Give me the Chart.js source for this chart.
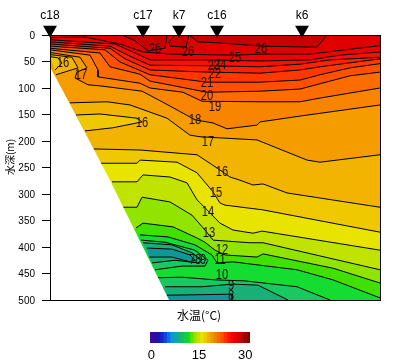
<!DOCTYPE html>
<html>
<head>
<meta charset="utf-8">
<style>
body { margin: 0; background: #fff; }
canvas { position: absolute; }
#sectionChart { left: 0; top: 0; }
#barChart { left: 130px; top: 325px; }
</style>
<script src="https://cdn.jsdelivr.net/npm/chart.js@4"></script>
</head>
<body>
<canvas id="sectionChart" width="400" height="360"></canvas>
<canvas id="barChart" width="140" height="35"></canvas>
<script>
// ===============================
// Stations along the section
// ===============================
const stationNames = ["c18", "c17", "k7", "c16", "k6"];
const stationDist = [0, 93, 129, 167, 252];

// ===============================
// Isotherms as [distance, depth in m]
// ===============================
const iso8 = [[117,491],[182,489],[182,500]];
const iso9 = [[115,475],[152,475],[183,470],[208,472],[238,500]];
const iso10 = [[108,458],[132,457],[165,462],[195,464],[247,475],[280,500]];
const iso11 = [[90,377],[118,381],[145,396],[162,415],[167,430],[183,428],[247,443],[283,462],[330,496]];
const iso12 = [[86,364],[93,355],[123,362],[147,383],[155,391],[165,406],[175,415],[207,419],[213,413],[283,440],[330,468]];
const iso13 = [[70,325],[87,325],[92,306],[120,315],[142,340],[155,368],[163,387],[200,392],[213,392],[330,443]];
const iso14 = [[62,277],[87,277],[93,264],[120,268],[137,279],[147,311],[155,326],[170,355],[183,368],[203,374],[212,370],[330,406]];
const iso15 = [[51,242],[87,242],[90,236],[127,240],[147,260],[163,296],[170,317],[175,321],[213,330],[330,372]];
const iso16 = [[44,215],[90,217],[147,226],[167,251],[180,268],[190,274],[203,283],[213,281],[237,298],[330,325]];
const iso17 = [[20,128],[57,126],[80,132],[117,157],[140,189],[150,192],[207,198],[257,236],[270,240],[330,226]];
const iso18 = [[0,33],[30,42],[37,62],[27,70],[25,81],[38,94],[50,96],[92,106],[118,132],[145,160],[163,166],[177,177],[207,170],[210,164],[250,153],[330,132]];
const iso19 = [[0,28],[40,38],[48,66],[48,79],[90,91],[100,100],[133,108],[152,125],[210,126],[250,126],[270,119],[330,100]];
const iso20 = [[0,25],[50,34],[60,60],[90,74],[100,87],[157,108],[210,106],[250,102],[300,77],[330,70]];
const iso21 = [[0,21],[55,28],[70,51],[100,75],[157,89],[210,89],[250,85],[270,75],[300,62],[330,54]];
const iso22 = [[0,17],[60,25],[75,45],[100,66],[157,70],[210,72],[250,66],[270,60],[330,45]];
const iso23 = [[0,13],[60,21],[80,40],[100,57],[157,58],[210,60],[250,55],[280,47],[330,42]];
const iso24 = [[0,9],[65,17],[85,34],[100,47],[157,47],[210,49],[260,47],[290,38],[330,32]];
const iso25 = [[0,5],[35,4],[70,17],[93,32],[120,36],[185,38],[210,36],[260,36],[277,32],[330,20]];

// closed pockets: cold lenses and the warm surface patches
const lens8 = [[97,402],[122,404],[140,415],[145,425],[140,428],[122,419],[99,419]];
const lens9 = [[93,392],[122,396],[142,411],[152,425],[148,430],[125,425],[102,430]];
const lens10 = [[91,387],[115,391],[145,406],[158,425],[155,436],[132,436],[105,443]];
const lens16 = [[26,151],[50,149],[87,157],[92,164],[63,175],[35,181]];
const shelf16 = [[0,41],[8,43],[12,53],[5,66]];
const shelf17 = [[0,37],[22,42],[28,62],[6,75]];
const patch26a = [[72,0],[85,11],[98,30],[115,25],[117,0]];
const patch26b = [[125,0],[119,13],[120,21],[136,23],[139,0]];
const patch26c = [[139,0],[148,13],[170,15],[211,21],[267,23],[277,0]];

// sea floor edge
const seafloor = [[0,60],[30,166],[60,274],[119,500]];

// labels written on the isotherms
const labelTexts = ["16","17","26","26","26","25","24","23","22","21","20","19","18","17","16","16","15","14","13","12","11","10","9","8","7","8","9"];
const labelDist = [13,31,105,138,211,185,170,164,165,157,157,165,145,158,92,172,166,158,159,172,170,172,181,181,142,148,153];
const labelDepth = [53,75,26,32,26,43,57,59,74,91,115,136,160,202,166,258,298,334,374,406,425,453,474,492,425,425,425];

// ===============================
// Colours, one step per degree
// ===============================
const bandColors = {
    7: "#109898", 8: "#18b078", 9: "#18c860", 10: "#14dc30", 11: "#40e000",
    12: "#90e400", 13: "#c0e400", 14: "#e8e400", 15: "#f0c800", 16: "#f2b400",
    17: "#f49c00", 18: "#f88400", 19: "#fc6c00", 20: "#ff5000", 21: "#ff3800",
    22: "#ff2000", 23: "#f81008", 24: "#f00000", 25: "#e00000", 26: "#c80000"
};
const barColors = [
    "#3a0a9c","#2a0aa8","#1a14b8","#1428cc","#0a46e8","#0a6ef0","#0a96d8","#0aa8a8","#10b080","#10c060",
    "#10d040","#10e010","#60e000","#a0e000","#c8e000","#f0e000","#f0c800","#f0b000","#f09800","#f08000",
    "#f86800","#ff5000","#ff3000","#f81808","#f00808","#e80000","#d00000","#b80000","#a00000","#800000"
];
const barTickValues = [0.4, 14.7, 28.6];
const barTickLabels = ["0", "15", "30"];

const FONT = "'Liberation Sans', sans-serif";
const CJK = "'Noto Sans CJK JP', sans-serif";
const MAX_DIST = 330;
const MAX_DEPTH = 500;

function toPoints(list) {
    return list.map(p => ({ x: p[0], y: p[1] }));
}

function fillShape(list, color) {
    return {
        type: "line",
        data: toPoints(list),
        fill: "shape",
        backgroundColor: color,
        borderWidth: 0,
        pointRadius: 0
    };
}

// everything warmer than the isotherm, up to the surface
function warmerThan(list, color) {
    const last = list[list.length - 1];
    return fillShape(
        list.concat([[MAX_DIST, last[1]], [MAX_DIST, 0], [0, 0], [0, MAX_DEPTH]]),
        color
    );
}

function strokeLine(list) {
    return {
        type: "line",
        data: toPoints(list),
        fill: false,
        borderColor: "#000",
        borderWidth: 1,
        pointRadius: 0
    };
}

// Paint order, coldest first
const painted = [
    fillShape([[0,0],[MAX_DIST,0],[MAX_DIST,MAX_DEPTH],[0,MAX_DEPTH]], bandColors[7]),
    warmerThan(iso8, bandColors[8]),
    warmerThan(iso9, bandColors[9]),
    warmerThan(iso10, bandColors[10]),
    fillShape(lens10, bandColors[9]),
    fillShape(lens9, bandColors[8]),
    fillShape(lens8, bandColors[7]),
    warmerThan(iso11, bandColors[11]),
    warmerThan(iso12, bandColors[12]),
    warmerThan(iso13, bandColors[13]),
    warmerThan(iso14, bandColors[14]),
    warmerThan(iso15, bandColors[15]),
    warmerThan(iso16, bandColors[16]),
    fillShape(lens16, bandColors[15]),
    warmerThan(iso17, bandColors[17]),
    fillShape(shelf17, bandColors[16]),
    fillShape(shelf16, bandColors[15]),
    warmerThan(iso18, bandColors[18]),
    warmerThan(iso19, bandColors[19]),
    warmerThan(iso20, bandColors[20]),
    warmerThan(iso21, bandColors[21]),
    warmerThan(iso22, bandColors[22]),
    warmerThan(iso23, bandColors[23]),
    warmerThan(iso24, bandColors[24]),
    warmerThan(iso25, bandColors[25]),
    fillShape(patch26a, bandColors[26]),
    fillShape(patch26b, bandColors[26]),
    fillShape(patch26c, bandColors[26])
];

const allLines = [
    iso8, iso9, iso10, iso11, iso12, iso13, iso14, iso15, iso16, iso17, iso18,
    iso19, iso20, iso21, iso22, iso23, iso24, iso25,
    lens8, lens9, lens10, lens16, shelf16, shelf17, patch26a, patch26b, patch26c
];

const floorShape = fillShape(seafloor.concat([[0, MAX_DEPTH]]), "#fff");

const stationMarks = {
    type: "line",
    data: stationDist.map(d => ({ x: d, y: -10 })),
    showLine: false,
    clip: false,
    pointStyle: "triangle",
    rotation: 180,
    pointRadius: 8,
    pointBackgroundColor: "#000",
    pointBorderWidth: 0
};

// first dataset ends up on top in Chart.js, so flip the paint order
const sectionDatasets = painted
    .concat(allLines.map(strokeLine))
    .concat([floorShape, stationMarks])
    .reverse();

// contour labels, axis titles and the plot frame
const sectionExtras = {
    id: "sectionExtras",
    afterDraw(chart) {
        const { ctx, chartArea, scales } = chart;
        ctx.save();
        ctx.fillStyle = "#201010";
        ctx.font = "14px " + FONT;
        ctx.textAlign = "center";
        ctx.textBaseline = "middle";
        labelTexts.forEach((text, i) => {
            const x = scales.x.getPixelForValue(labelDist[i]);
            const y = scales.y.getPixelForValue(labelDepth[i]);
            ctx.save();
            ctx.translate(x, y);
            ctx.scale(0.8, 1);
            ctx.fillText(text, 0, 0);
            ctx.restore();
        });

        ctx.strokeStyle = "#000";
        ctx.lineWidth = 1;
        ctx.strokeRect(chartArea.left + 0.5, chartArea.top + 0.5, chartArea.width, chartArea.height);

        ctx.fillStyle = "#000";
        ctx.font = "12px " + CJK;
        ctx.fillText("水温(°C)", 199, 315);
        ctx.translate(10, 157);
        ctx.rotate(-Math.PI / 2);
        ctx.font = "10px " + CJK;
        ctx.fillText("水深(m)", 0, 0);
        ctx.restore();
    }
};

new Chart(document.getElementById("sectionChart"), {
    type: "line",
    data: { datasets: sectionDatasets },
    plugins: [sectionExtras],
    options: {
        responsive: false,
        animation: false,
        events: [],
        layout: { padding: { right: 20, bottom: 38 } },
        elements: { line: { tension: 0 } },
        plugins: { legend: { display: false }, tooltip: { enabled: false } },
        scales: {
            x: {
                type: "linear",
                min: 0,
                max: MAX_DIST,
                ticks: { display: false },
                grid: { display: false },
                border: { display: false },
                afterFit(scale) { scale.height = 22; }
            },
            stations: {
                type: "linear",
                position: "top",
                min: 0,
                max: MAX_DIST,
                grid: { display: false, drawTicks: false },
                border: { display: false },
                afterBuildTicks(scale) {
                    scale.ticks = stationDist.map(d => ({ value: d }));
                },
                ticks: {
                    color: "#000",
                    padding: 12,
                    maxRotation: 0,
                    autoSkip: false,
                    font: { family: FONT, size: 12 },
                    callback: (value, i) => stationNames[i]
                },
                afterFit(scale) { scale.height = 35; }
            },
            y: {
                reverse: true,
                min: 0,
                max: MAX_DEPTH,
                grid: {
                    drawOnChartArea: false,
                    color: "#000",
                    tickLength: 8
                },
                border: { color: "#000" },
                ticks: {
                    stepSize: 50,
                    color: "#000",
                    padding: 7,
                    labelOffset: 1,
                    font: { family: FONT, size: 10 }
                },
                afterFit(scale) { scale.width = 50; }
            }
        }
    }
});

// ===============================
// Colour bar, one stacked step per degree
// ===============================
new Chart(document.getElementById("barChart"), {
    type: "bar",
    data: {
        labels: [""],
        datasets: barColors.map(color => ({
            data: [1],
            backgroundColor: color,
            barPercentage: 1,
            categoryPercentage: 1
        }))
    },
    options: {
        responsive: false,
        animation: false,
        events: [],
        indexAxis: "y",
        layout: { padding: { left: 20, right: 20, top: 7 } },
        plugins: { legend: { display: false }, tooltip: { enabled: false } },
        scales: {
            x: {
                stacked: true,
                min: 0,
                max: 30,
                grid: { display: false, drawTicks: false },
                border: { display: false },
                afterBuildTicks(scale) {
                    scale.ticks = barTickValues.map(v => ({ value: v }));
                },
                ticks: {
                    color: "#000",
                    padding: 5,
                    maxRotation: 0,
                    autoSkip: false,
                    font: { family: FONT, size: 13 },
                    callback: (value, i) => barTickLabels[i]
                },
                afterFit(scale) { scale.height = 17; }
            },
            y: {
                stacked: true,
                display: false
            }
        }
    }
});
</script>
</body>
</html>
